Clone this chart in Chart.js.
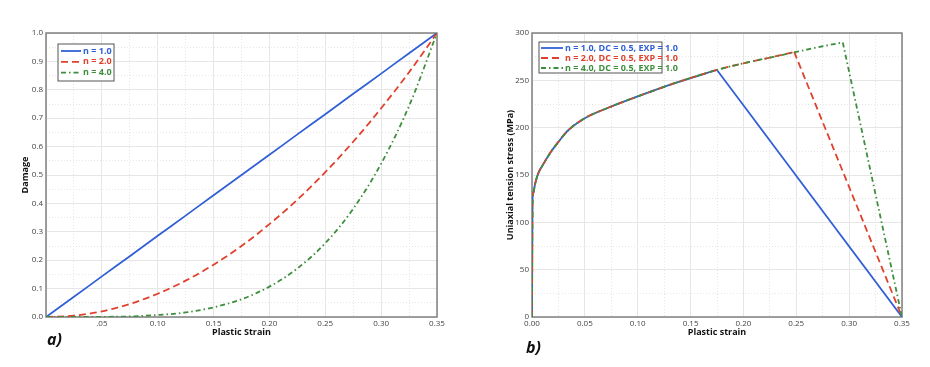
<!DOCTYPE html>
<html>
<head>
<meta charset="utf-8">
<script src="https://cdn.jsdelivr.net/npm/chart.js@4"></script>
<style>
  body { margin: 0; background: #fff; width: 930px; height: 367px; overflow: hidden; position: relative; }
  .box { position: absolute; top: 0; height: 367px; }
  .tag { position: absolute; font: italic bold 16px 'Open Sans', sans-serif; color: #111; line-height: 1; }
</style>
</head>
<body>
<div class="box" style="left:0;width:460px"><canvas id="damage"></canvas></div>
<div class="box" style="left:460px;width:470px"><canvas id="stress"></canvas></div>
<div class="tag" style="left:47px;top:331px">a)</div>
<div class="tag" style="left:526px;top:339px">b)</div>
<script>
// --- chart a) damage vs plastic strain ---
const strainA  = [0, 0.025, 0.05, 0.075, 0.1, 0.125, 0.15, 0.175, 0.2, 0.225, 0.25, 0.275, 0.3, 0.325, 0.35];
const damageN1 = [0, 0.071, 0.143, 0.214, 0.286, 0.357, 0.429, 0.5, 0.571, 0.643, 0.714, 0.786, 0.857, 0.929, 1.0];
const damageN2 = [0, 0.005, 0.02, 0.046, 0.082, 0.128, 0.184, 0.25, 0.327, 0.413, 0.51, 0.617, 0.735, 0.862, 1.0];
const damageN4 = [0, 0, 0.0004, 0.002, 0.007, 0.016, 0.034, 0.0625, 0.107, 0.171, 0.26, 0.381, 0.54, 0.743, 1.0];
const labelsA  = ['n = 1.0', 'n = 2.0', 'n = 4.0'];

// --- chart b) uniaxial stress vs plastic strain ---
// common hardening branch (up to the n = 1.0 peak)
const hardStrain = [0, 0.0005, 0.0012, 0.003, 0.006, 0.011, 0.017, 0.025, 0.034, 0.05, 0.072, 0.1, 0.135, 0.175];
const hardStress = [0, 124, 131, 141, 152, 162, 173, 185, 197, 210, 221, 233, 247, 261];
// hardening continues further for n = 2.0 and n = 4.0
const riseN2Strain = [0.2, 0.225, 0.248];
const riseN2Stress = [268, 274, 280];
const riseN4Strain = [0.2, 0.225, 0.25, 0.275, 0.294];
const riseN4Stress = [268, 274, 280, 286, 290];
// every curve fails at the same strain
const failStrain = [0.35];
const failStress = [0];
const labelsB = ['n = 1.0, DC = 0.5, EXP = 1.0', 'n = 2.0, DC = 0.5, EXP = 1.0', 'n = 4.0, DC = 0.5, EXP = 1.0'];

const BLUE = '#3160d6', RED = '#e0412d', GREEN = '#3e8e3e';
const DASH = [7, 4], DASHDOT = [5, 3, 1.5, 3];

Chart.defaults.font.family = "'Open Sans', sans-serif";
Chart.defaults.font.size = 8;
Chart.defaults.color = '#444';

const pts = (xs, ys) => xs.map((x, i) => ({ x: x, y: ys[i] }));
const isMajor = (v, step) => Math.abs(v / step - Math.round(v / step)) < 1e-6;

// frame around plot area
const frame = {
    id: 'frame',
    beforeDatasetsDraw(chart) {
        const a = chart.chartArea, ctx = chart.ctx;
        ctx.save();
        ctx.strokeStyle = '#808080';
        ctx.lineWidth = 1.5;
        ctx.strokeRect(a.left, a.top, a.right - a.left, a.bottom - a.top);
        ctx.restore();
    }
};

// legend with border, drawn inside the plot (only labelled datasets)
const boxLegend = {
    id: 'boxLegend',
    afterDatasetsDraw(chart, args, o) {
        const ctx = chart.ctx, a = chart.chartArea;
        const x0 = a.left + o.x, y0 = a.top + o.y;
        ctx.save();
        ctx.fillStyle = '#fff';
        ctx.fillRect(x0, y0, o.w, o.h);
        ctx.strokeStyle = '#555';
        ctx.lineWidth = 1;
        ctx.strokeRect(x0, y0, o.w, o.h);
        ctx.font = "bold 9px 'Open Sans', sans-serif";
        ctx.textBaseline = 'middle';
        chart.data.datasets.filter(ds => ds.label).forEach((ds, i) => {
            const y = y0 + o.first + i * o.row;
            ctx.strokeStyle = ds.borderColor;
            ctx.lineWidth = ds.borderWidth;
            ctx.setLineDash(ds.borderDash || []);
            ctx.beginPath();
            ctx.moveTo(x0 + o.pad, y);
            ctx.lineTo(x0 + o.pad + o.sample, y);
            ctx.stroke();
            ctx.setLineDash([]);
            ctx.fillStyle = ds.borderColor;
            ctx.fillText(ds.label, x0 + o.pad + o.sample + 2, y);
        });
        ctx.restore();
    }
};

function axis(opts) {
    // one axis: minor step gives dotted grid, major step gives solid grid + labels
    return {
        type: 'linear',
        position: opts.pos,
        min: opts.min, max: opts.max,
        ticks: {
            stepSize: opts.minor, autoSkip: false, padding: opts.tickPad, color: '#444',
            callback: (v) => isMajor(v, opts.major) ? opts.fmt(v) : ''
        },
        grid: { drawTicks: false, color: '#e6e6e6', lineWidth: 1 },
        border: {
            display: false,
            dash: (c) => (c.tick && !isMajor(c.tick.value, opts.major)) ? [1, 2] : []
        },
        title: {
            display: true, text: opts.title, color: '#111',
            font: { size: 9, weight: 'bold' },
            padding: opts.titlePad
        },
        afterFit: (s) => { if (opts.pos === 'left') s.width = opts.size; else s.height = opts.size; }
    };
}

new Chart(document.getElementById('damage'), {
    type: 'line',
    data: {
        datasets: [
            { label: labelsA[0], data: pts(strainA, damageN1), borderColor: BLUE, borderWidth: 1.8, order: 2 },
            { label: labelsA[1], data: pts(strainA, damageN2), borderColor: RED, borderWidth: 1.8, borderDash: DASH, order: 1 },
            { label: labelsA[2], data: pts(strainA, damageN4), borderColor: GREEN, borderWidth: 1.8, borderDash: DASHDOT, order: 0 }
        ]
    },
    options: {
        responsive: true, maintainAspectRatio: false, animation: false,
        layout: { padding: { left: 0, top: 33, right: 23, bottom: 0 } },
        elements: { point: { radius: 0 }, line: { cubicInterpolationMode: 'monotone' } },
        plugins: {
            legend: { display: false }, tooltip: { enabled: false },
            boxLegend: { x: 12, y: 11, w: 56, h: 37, first: 7, row: 10.8, pad: 3, sample: 20 }
        },
        scales: {
            x: axis({ pos: 'bottom', min: 0, max: 0.35, minor: 0.025, major: 0.05, tickPad: 2,
                      fmt: (v) => v === 0 ? '' : (Math.abs(v - 0.05) < 1e-6 ? '.05' : v.toFixed(2)),
                      title: 'Plastic Strain', titlePad: { top: 0, bottom: 29.6 }, size: 50 }),
            y: axis({ pos: 'left', min: 0, max: 1, minor: 0.05, major: 0.1, tickPad: 3,
                      fmt: (v) => v.toFixed(1),
                      title: 'Damage', titlePad: { top: 19.6, bottom: 0 }, size: 46 })
        }
    },
    plugins: [frame, boxLegend]
});

// rising branch smooth, softening branch straight: two datasets per curve
const riseN1 = pts(hardStrain, hardStress);
const riseN2 = pts(hardStrain.concat(riseN2Strain), hardStress.concat(riseN2Stress));
const riseN4 = pts(hardStrain.concat(riseN4Strain), hardStress.concat(riseN4Stress));
const dropFrom = (rise) => [rise[rise.length - 1]].concat(pts(failStrain, failStress));

new Chart(document.getElementById('stress'), {
    type: 'line',
    data: {
        datasets: [
            { label: labelsB[0], data: riseN1, borderColor: BLUE, borderWidth: 1.8, order: 2, cubicInterpolationMode: 'monotone' },
            { label: labelsB[1], data: riseN2, borderColor: RED, borderWidth: 1.8, borderDash: DASH, order: 1, cubicInterpolationMode: 'monotone' },
            { label: labelsB[2], data: riseN4, borderColor: GREEN, borderWidth: 1.8, borderDash: DASHDOT, order: 0, cubicInterpolationMode: 'monotone' },
            { data: dropFrom(riseN1), borderColor: BLUE, borderWidth: 1.8, order: 2 },
            { data: dropFrom(riseN2), borderColor: RED, borderWidth: 1.8, borderDash: DASH, order: 1 },
            { data: dropFrom(riseN4), borderColor: GREEN, borderWidth: 1.8, borderDash: DASHDOT, order: 0 }
        ]
    },
    options: {
        responsive: true, maintainAspectRatio: false, animation: false,
        layout: { padding: { left: 0, top: 33, right: 28, bottom: 0 } },
        elements: { point: { radius: 0 }, line: { tension: 0 } },
        plugins: {
            legend: { display: false }, tooltip: { enabled: false },
            boxLegend: { x: 7, y: 9, w: 123, h: 31, first: 6, row: 10, pad: 2, sample: 22 }
        },
        scales: {
            x: axis({ pos: 'bottom', min: 0, max: 0.35, minor: 0.025, major: 0.05, tickPad: 2,
                      fmt: (v) => v.toFixed(2),
                      title: 'Plastic strain', titlePad: { top: 0, bottom: 29.6 }, size: 50 }),
            y: axis({ pos: 'left', min: 0, max: 300, minor: 25, major: 50, tickPad: 3,
                      fmt: (v) => String(v),
                      title: 'Uniaxial tension stress (MPa)', titlePad: { top: 44.6, bottom: 0 }, size: 72 })
        }
    },
    plugins: [frame, boxLegend]
});
</script>
</body>
</html>
